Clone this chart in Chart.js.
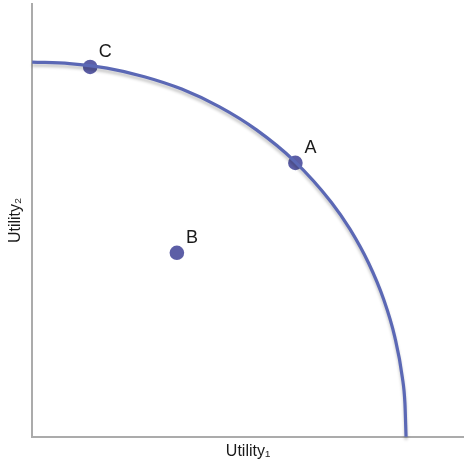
<!DOCTYPE html>
<html><head><meta charset="utf-8">
<script src="https://cdn.jsdelivr.net/npm/chart.js@4"></script>
<style>html,body{margin:0;padding:0;background:#fff}canvas{display:block}</style>
</head><body>
<canvas id="c" width="464" height="464"></canvas>
<script>
// Utility possibility frontier
const frontierU1 = [0, 10, 20, 30, 40, 50, 60, 70, 80, 85, 90, 94, 97, 99, 99.7, 100];
const frontierU2 = [100, 99.6, 98.4, 96.1, 92.8, 88.1, 81.9, 73.7, 62.6, 55.4, 46.3, 36.7, 26.6, 15.9, 8.9, 0];
// Labelled points
const pointLabels = ['C', 'A', 'B'];
const pointU1 = [15.5, 70.4, 38.7];
const pointU2 = [98.7, 73.1, 49.1];
// Axis titles
const xTitle = 'Utility\u2081';
const yTitle = 'Utility\u2082';
const axisMin = 0, axisMax = 115.5;

const frontier = frontierU1.map((x, i) => ({x, y: frontierU2[i]}));
const pts = pointU1.map((x, i) => ({x, y: pointU2[i]}));

const shadowPlugin = {
  id: 'shadow',
  beforeDatasetDraw(chart, args) {
    if (args.index === 0) {
      const ctx = chart.ctx; ctx.save();
      ctx.shadowColor = 'rgba(0,0,0,0.22)';
      ctx.shadowBlur = 3; ctx.shadowOffsetX = 0; ctx.shadowOffsetY = 3;
    }
  },
  afterDatasetDraw(chart, args) {
    if (args.index === 0) chart.ctx.restore();
  }
};
const labelPlugin = {
  id: 'ptlabels',
  afterDatasetsDraw(chart) {
    const meta = chart.getDatasetMeta(1);
    const ctx = chart.ctx; ctx.save();
    ctx.font = '18px "Liberation Sans", Arial, sans-serif';
    ctx.fillStyle = '#1a1a1a'; ctx.textAlign = 'center'; ctx.textBaseline = 'middle';
    meta.data.forEach((el, i) => ctx.fillText(pointLabels[i], el.x + 15, el.y - 15));
    ctx.restore();
  }
};

new Chart(document.getElementById('c'), {
  type: 'scatter',
  data: {
    datasets: [
      { data: frontier, showLine: true, borderColor: '#5b68b5', borderWidth: 3.2,
        pointRadius: 0, cubicInterpolationMode: 'monotone', clip: false, fill: false },
      { data: pts, showLine: false, pointRadius: 7.3, pointHoverRadius: 7.3,
        backgroundColor: '#5c5ea6', borderColor: '#5c5ea6', borderWidth: 0, clip: false }
    ]
  },
  options: {
    responsive: false, animation: false, devicePixelRatio: 1,
    layout: { autoPadding: false, padding: { top: 4, right: 0, left: 0, bottom: 0 } },
    plugins: { legend: { display: false }, tooltip: { enabled: false } },
    scales: {
      x: { type: 'linear', min: axisMin, max: axisMax,
        grid: { display: false, drawTicks: false },
        ticks: { display: false },
        border: { color: '#ababab', width: 2 },
        title: { display: true, text: xTitle, color: '#1a1a1a',
          font: { family: '"Liberation Sans", Arial, sans-serif', size: 16 },
          padding: { top: 5, bottom: 3 } } },
      y: { type: 'linear', min: axisMin, max: axisMax,
        grid: { display: false, drawTicks: false },
        ticks: { display: false },
        border: { color: '#ababab', width: 2 },
        title: { display: true, text: yTitle, color: '#1a1a1a',
          font: { family: '"Liberation Sans", Arial, sans-serif', size: 16 },
          padding: { top: 6, bottom: 7 } } }
    }
  },
  plugins: [shadowPlugin, labelPlugin]
});
</script>
</body></html>
